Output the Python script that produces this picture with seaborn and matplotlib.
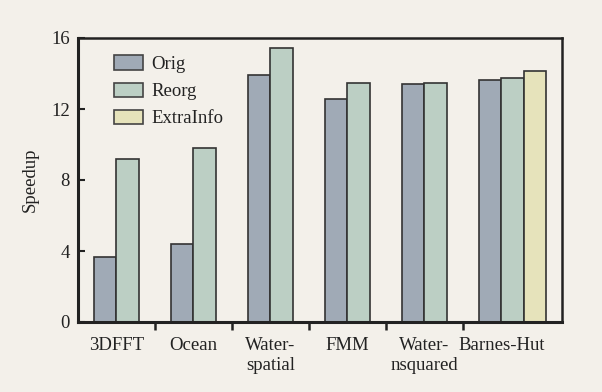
import matplotlib
matplotlib.use("Agg")
import matplotlib.pyplot as plt
import seaborn as sns
import pandas as pd
from matplotlib.patches import Patch

categories = ["3DFFT", "Ocean", "Water-\nspatial", "FMM", "Water-\nnsquared", "Barnes-Hut"]
orig = [3.68, 4.38, 13.9, 12.56, 13.39, 13.63]
reorg = [9.18, 9.78, 15.42, 13.48, 13.46, 13.76]
extra_cat = ["Barnes-Hut"]
extra = [14.14]
series = ["Orig", "Reorg", "ExtraInfo"]
colors = ["#a0aab6", "#bccfc4", "#e6e3bb"]
yticks = [0, 4, 8, 12, 16]

bw = 0.286
rows = []
for i, c in enumerate(categories):
    rows.append({"pos": i - bw / 2, "val": orig[i], "series": "Orig"})
    rows.append({"pos": i + bw / 2, "val": reorg[i], "series": "Reorg"})
for c, v in zip(extra_cat, extra):
    i = categories.index(c)
    rows.append({"pos": i + 1.5 * bw, "val": v, "series": "ExtraInfo"})
df = pd.DataFrame(rows)

sns.set_theme(style="ticks")
bg = "#f3f0ea"
plt.rcParams["font.family"] = ["Liberation Serif", "DejaVu Serif"]
fs = 13.5
plt.rcParams["font.size"] = fs

fig = plt.figure(figsize=(6.02, 3.92), dpi=100, facecolor=bg)
ax = fig.add_axes([78 / 602, 1 - 322 / 392, (562 - 78) / 602, (322 - 38) / 392])
ax.set_facecolor(bg)

sns.barplot(data=df, x="pos", y="val", hue="series", hue_order=series,
            palette=colors, native_scale=True, dodge=False, width=1.0,
            edgecolor="#333333", linewidth=1.2, saturation=1, legend=False, ax=ax)

ax.set_xlim(-0.5, 5.786)
ax.set_ylim(0, 16)
ax.set_yticks(yticks)
ax.set_yticklabels([str(t) for t in yticks], fontsize=fs, color="#222222")
ax.tick_params(axis="y", direction="in", length=5, width=1.5, color="#222222", pad=6)
ax.set_xticks([i + 0.5 for i in range(len(categories) - 1)])
ax.set_xticklabels([])
ax.tick_params(axis="x", direction="out", length=6, width=1.8, color="#222222")
for i, c in enumerate(categories):
    ax.text(i, -0.85, c, ha="center", va="top", fontsize=fs, color="#222222",
            linespacing=1.25)
ax.set_xlabel("")
ax.set_ylabel("Speedup", fontsize=fs, labelpad=9, color="#222222")
for s in ax.spines.values():
    s.set_visible(True)
    s.set_color("#222222")
ax.spines["left"].set_linewidth(2.2)
ax.spines["bottom"].set_linewidth(2.2)
ax.spines["top"].set_linewidth(1.8)
ax.spines["right"].set_linewidth(1.8)

handles = [Patch(facecolor=c, edgecolor="#444444", linewidth=1.2, label=s)
           for s, c in zip(series, colors)]
ax.legend(handles=handles, loc="upper left", bbox_to_anchor=(0.04, 0.998),
          frameon=False, fontsize=fs, handlelength=1.55, handleheight=0.8,
          labelspacing=0.5, handletextpad=0.45, labelcolor="#222222")

fig.savefig("out.png", dpi=100, facecolor=bg)
